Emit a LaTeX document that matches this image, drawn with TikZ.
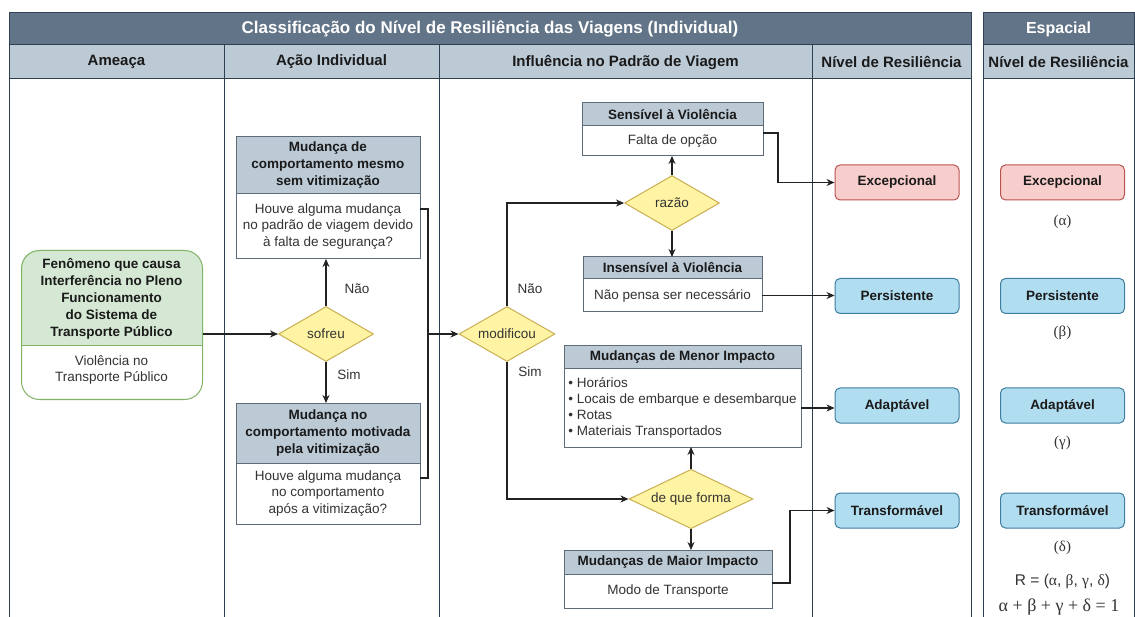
\documentclass[tikz,border=0pt]{standalone}
\usepackage{fontspec}
\setmainfont{Liberation Sans}
\newfontfamily\grk{Liberation Serif}
\usetikzlibrary{shapes.geometric,arrows.meta}

\definecolor{titlefill}{HTML}{627487}
\definecolor{titleline}{HTML}{314354}
\definecolor{headfill}{HTML}{BCCAD6}
\definecolor{gridline}{HTML}{2E4153}
\definecolor{boxline}{HTML}{5E6C79}
\definecolor{decfill}{HTML}{FFF4A3}
\definecolor{decline}{HTML}{C9AE52}
\definecolor{redfill}{HTML}{F8CECC}
\definecolor{redline}{HTML}{B85450}
\definecolor{bluefill}{HTML}{B1DDF0}
\definecolor{blueline}{HTML}{3E7FA0}
\definecolor{greenfill}{HTML}{D5E8D4}
\definecolor{greenline}{HTML}{82B366}
\definecolor{ink}{HTML}{1A1A1A}
\definecolor{bodyink}{HTML}{333333}
\definecolor{wire}{HTML}{222222}

\tikzset{
  fnt/.style={font=\fontsize{13.5}{16.5}\selectfont},
  bfnt/.style={font=\bfseries\fontsize{13.5}{17}\selectfont},
  titlebar/.style={draw=titleline, fill=titlefill, line width=1pt, inner sep=0pt, outer sep=0pt,
    anchor=north west, minimum height=32, text=white, font=\bfseries\fontsize{17}{19}\selectfont},
  colhead/.style={draw=gridline, fill=headfill, line width=1pt, inner sep=0pt, outer sep=0pt,
    anchor=north west, minimum height=34, text=ink, font=\bfseries\fontsize{15}{17}\selectfont},
  grid/.style={draw=gridline, line width=1pt},
  boxhead/.style={draw=boxline, fill=headfill, line width=1pt, inner sep=0pt, outer sep=0pt,
    anchor=north west, align=center, text=ink, bfnt},
  boxbody/.style={draw=boxline, fill=white, line width=1pt, inner sep=0pt, outer sep=0pt,
    anchor=north west, align=center, text=bodyink, fnt},
  decision/.style={diamond, draw=decline, fill=decfill, line width=1pt, inner sep=0pt,
    aspect=1.7, text=bodyink, fnt},
  levelred/.style={draw=redline, fill=redfill, line width=1pt, rounded corners=5,
    minimum width=124, minimum height=35, inner sep=0pt, text=ink, bfnt},
  levelblue/.style={draw=blueline, fill=bluefill, line width=1pt, rounded corners=5,
    minimum width=124, minimum height=35, inner sep=0pt, text=ink, bfnt},
  wirestyle/.style={draw=wire, line width=1.1pt},
  arr/.style={wirestyle, -{Stealth[length=8pt,width=7pt]}},
  lbl/.style={text=bodyink, fnt, inner sep=0pt},
  greek/.style={text=bodyink, font=\grk\fontsize{15}{17}\selectfont, inner sep=0pt},
}

\begin{document}
\begin{tikzpicture}[x=1pt,y=-1pt]
\useasboundingbox (0,0) rectangle (1135,617);
\fill[white] (0,0) rectangle (1135,617);

% ---- swimlane table: individual classification ----
\node[titlebar, minimum width=962] (title1) at (9,13)
  {Classificação do Nível de Resiliência das Viagens (Individual)};
\node[colhead, minimum width=215] (hAmeaca) at (9,45) {Ameaça};
\node[colhead, minimum width=215] (hAcao) at (224,45) {Ação Individual};
\node[colhead, minimum width=373] (hInfl) at (439,45) {Influência no Padrão de Viagem};
\node[colhead, minimum width=159] (hNivel) at (812,45) {Nível de Resiliência};
\foreach \x in {9,224,439,812,971} \draw[grid] (\x,79) -- (\x,617);

% ---- swimlane table: spatial classification ----
\node[titlebar, minimum width=151, font=\bfseries\fontsize{16}{18}\selectfont] (title2) at (983,13) {Espacial};
\node[colhead, minimum width=151] (hNivelE) at (983,45) {Nível de Resiliência};
\foreach \x in {983,1134} \draw[grid] (\x,79) -- (\x,617);

% ---- threat ----
\fill[white, rounded corners=18] (21,250) rectangle (202,399);
\begin{scope}
  \clip (21,250) rectangle (202,346);
  \fill[greenfill, rounded corners=18] (21,250) rectangle (202,399);
\end{scope}
\draw[greenline, line width=1pt] (21,346) -- (202,346);
\node[draw=greenline, line width=1pt, rounded corners=18, minimum width=181, minimum height=149,
  inner sep=0pt, anchor=north west] (amea) at (21,250) {};
\node[bfnt, text=ink, align=center] (ameaHead) at (111.5,299)
  {Fenômeno que causa\\Interferência no Pleno\\Funcionamento\\do Sistema de\\Transporte Público};
\node[fnt, text=bodyink, align=center] (ameaBody) at (111.5,370)
  {Violência no\\Transporte Público};

% ---- individual action ----
\node[decision, minimum width=95, minimum height=55] (sof) at (326,334) {sofreu};

\node[boxhead, minimum width=184, minimum height=57] (semH) at (236,137)
  {Mudança de\\comportamento mesmo\\sem vitimização};
\node[boxbody, minimum width=184, minimum height=65] (semB) at (236,194)
  {Houve alguma mudança\\no padrão de viagem devido\\à falta de segurança?};

\node[boxhead, minimum width=184, minimum height=60] (vitH) at (236,403)
  {Mudança no\\comportamento motivada\\pela vitimização};
\node[boxbody, minimum width=184, minimum height=61] (vitB) at (236,463)
  {Houve alguma mudança\\no comportamento\\após a vitimização?};

% ---- influence on travel pattern ----
\node[decision, minimum width=96, minimum height=55] (mod) at (507,334) {modificou};
\node[decision, minimum width=95, minimum height=55] (raz) at (672,203) {razão};
\node[decision, minimum width=124, minimum height=55] (dqf) at (691,499) {de que forma};

\node[boxhead, minimum width=181, minimum height=23] (sensH) at (582,103) {Sensível à Violência};
\node[boxbody, minimum width=181, minimum height=30] (sensB) at (582,126) {Falta de opção};

\node[boxhead, minimum width=179, minimum height=22] (insH) at (583,257) {Insensível à Violência};
\node[boxbody, minimum width=179, minimum height=33] (insB) at (583,279) {Não pensa ser necessário};

\node[boxhead, minimum width=237, minimum height=23] (menH) at (564,346) {Mudanças de Menor Impacto};
\node[boxbody, minimum width=237, minimum height=78, align=left,
  font=\fontsize{13.5}{15.8}\selectfont] (menB) at (564,369)
  {• Horários\\• Locais de embarque e desembarque\\• Rotas\\• Materiais Transportados};

\node[boxhead, minimum width=208, minimum height=24] (maiH) at (564,550) {Mudanças de Maior Impacto};
\node[boxbody, minimum width=208, minimum height=34] (maiB) at (564,574) {Modo de Transporte};

% ---- resilience levels ----
\node[levelred]  (exc) at (897,182.5) {Excepcional};
\node[levelblue] (per) at (897,296)   {Persistente};
\node[levelblue] (ada) at (897,405.5) {Adaptável};
\node[levelblue] (tra) at (897,510.5) {Transformável};

\node[levelred]  (excE) at (1062.5,182.5) {Excepcional};
\node[levelblue] (perE) at (1062.5,296)   {Persistente};
\node[levelblue] (adaE) at (1062.5,405.5) {Adaptável};
\node[levelblue] (traE) at (1062.5,510.5) {Transformável};

\node[greek] (wA) at (1062.5,222) {(α)};
\node[greek] (wB) at (1062.5,333) {(β)};
\node[greek] (wG) at (1062.5,443) {(γ)};
\node[greek] (wD) at (1062.5,548) {(δ)};
\node[text=bodyink, font=\fontsize{15.5}{17}\selectfont, inner sep=0pt] (vecR) at (1062.5,582)
  {R = ({\grk α}, {\grk β}, {\grk γ}, {\grk δ})};
\node[greek, font=\grk\fontsize{18}{19}\selectfont] (sumR) at (1059,607) {α + β + γ + δ = 1};

% ---- connectors ----
\draw[arr] (amea.east |- sof.west) -- (sof.west);
\draw[arr] (sof.north) -- (sof.north |- semB.south);
\draw[arr] (sof.south) -- (sof.south |- vitH.north);
\node[lbl] (lNao1) at (357,289) {Não};
\node[lbl] (lSim1) at (349,375) {Sim};

\coordinate (join) at (428,334);
\draw[wirestyle] ([yshift=17.5pt]semB.east) -| (join);
\draw[wirestyle] ([yshift=15.5pt]vitB.east) -| (join);
\draw[arr] (join) -- (mod.west);

\draw[arr] (mod.north) |- (raz.west);
\draw[arr] (mod.south) |- (dqf.west);
\node[lbl] (lNao2) at (530,289) {Não};
\node[lbl] (lSim2) at (530,372) {Sim};

\draw[arr] (raz.north) -- (raz.north |- sensB.south);
\draw[arr] (raz.south) -- (raz.south |- insH.north);
\draw[arr] (dqf.north) -- (dqf.north |- menB.south);
\draw[arr] (dqf.south) -- (dqf.south |- maiH.north);

\draw[arr] ([yshift=8pt]sensB.east) -- ++(15,0) |- (exc.west);
\draw[arr] (insB.east) -- (insB.east -| per.west);
\draw[arr] (menB.east) -- (menB.east -| ada.west);
\draw[arr] ([yshift=8pt]maiB.east) -- ++(18,0) |- (tra.west);
\end{tikzpicture}
\end{document}
